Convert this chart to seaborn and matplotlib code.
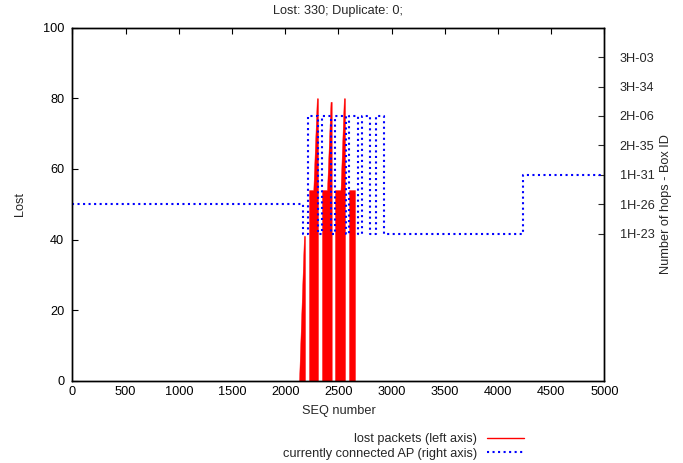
import numpy as np
import pandas as pd
import seaborn as sns
from matplotlib import pyplot as plt
from matplotlib.lines import Line2D

# lost packets outline (seq number, lost count)
lost_seq = [0, 2130, 2176, 2186, 2186, 2224, 2224, 2264, 2297, 2308, 2308,
            2346, 2346, 2393, 2426, 2437, 2437, 2468, 2468, 2520, 2551, 2562,
            2562, 2600, 2600, 2656, 2656, 5000]
lost_val = [0, 0, 41, 41, 0, 0, 54, 54, 80, 80, 0,
            0, 54, 54, 79, 79, 0, 0, 54, 54, 80, 80,
            0, 0, 54, 54, 0, 0]

# currently connected AP (index on right axis), step changes
ap_seq = [0, 2170, 2217, 2305, 2343, 2428, 2468, 2571, 2603, 2681, 2719,
          2797, 2854, 2929, 4233, 5000]
ap_val = [6, 5, 9, 5, 9, 5, 9, 5, 9, 5, 9, 5, 9, 5, 7, 7]

ap_ticks = [5, 6, 7, 8, 9, 10, 11]
ap_labels = ['1H-23', '1H-26', '1H-31', '2H-35', '2H-06', '3H-34', '3H-03']

sns.set_style("white")
plt.rcParams['font.family'] = ['Liberation Sans', 'DejaVu Sans']
fs = 9.2

lost = pd.DataFrame({"seq": lost_seq, "lost": lost_val})
ap = pd.DataFrame({"seq": ap_seq, "ap": ap_val})

fig = plt.figure(figsize=(6.83, 4.63), dpi=100)
ax = fig.add_axes([0.1061, 0.1777, 0.7787, 0.7625])

ax.fill_between(lost["seq"], 0, lost["lost"], color="red", linewidth=0.3,
                edgecolor="red")
ax.set_xlim(0, 5000)
ax.set_ylim(0, 100)
ax.set_xticks(np.arange(0, 5001, 500))
ax.set_yticks(np.arange(0, 101, 20))
ax.tick_params(direction="in", top=True, right=False, length=4, width=0.8,
               labelsize=fs, colors="black")
ax.tick_params(axis="y", pad=6)
ax.tick_params(axis="x", pad=4)
ax.set_xlabel("SEQ number", fontsize=fs, labelpad=5)
ax.set_ylabel("Lost", fontsize=fs, labelpad=12)
ax.set_title("Lost: 330; Duplicate: 0;", fontsize=fs, pad=10)

ax2 = ax.twinx()
sns.lineplot(data=ap, x="seq", y="ap", ax=ax2, color="#0000ff", linestyle=":",
             linewidth=1.5, drawstyle="steps-post")
ax2.set_ylim(0, 12)
ax2.set_yticks(ap_ticks)
ax2.set_yticklabels(ap_labels)
ax2.tick_params(direction="in", length=4, width=0.8, labelsize=fs, pad=11)
ax2.set_ylabel("Number of hops - Box ID", fontsize=fs, labelpad=4)
ax2.set_xlim(0, 5000)

for a in (ax, ax2):
    for s in a.spines.values():
        s.set_linewidth(1.0)
        s.set_color("black")

handles = [Line2D([], [], color="red", linewidth=1.0),
           Line2D([], [], color="#0000ff", linestyle=":", linewidth=1.5)]
labels = ["lost packets (left axis)", "currently connected AP (right axis)"]
fig.legend(handles, labels, loc="upper right", bbox_to_anchor=(0.776, 0.078),
           frameon=False, markerfirst=False, fontsize=fs, handlelength=2.9,
           handletextpad=0.75, labelspacing=0.2, borderpad=0)

fig.savefig("out.png", dpi=100)
